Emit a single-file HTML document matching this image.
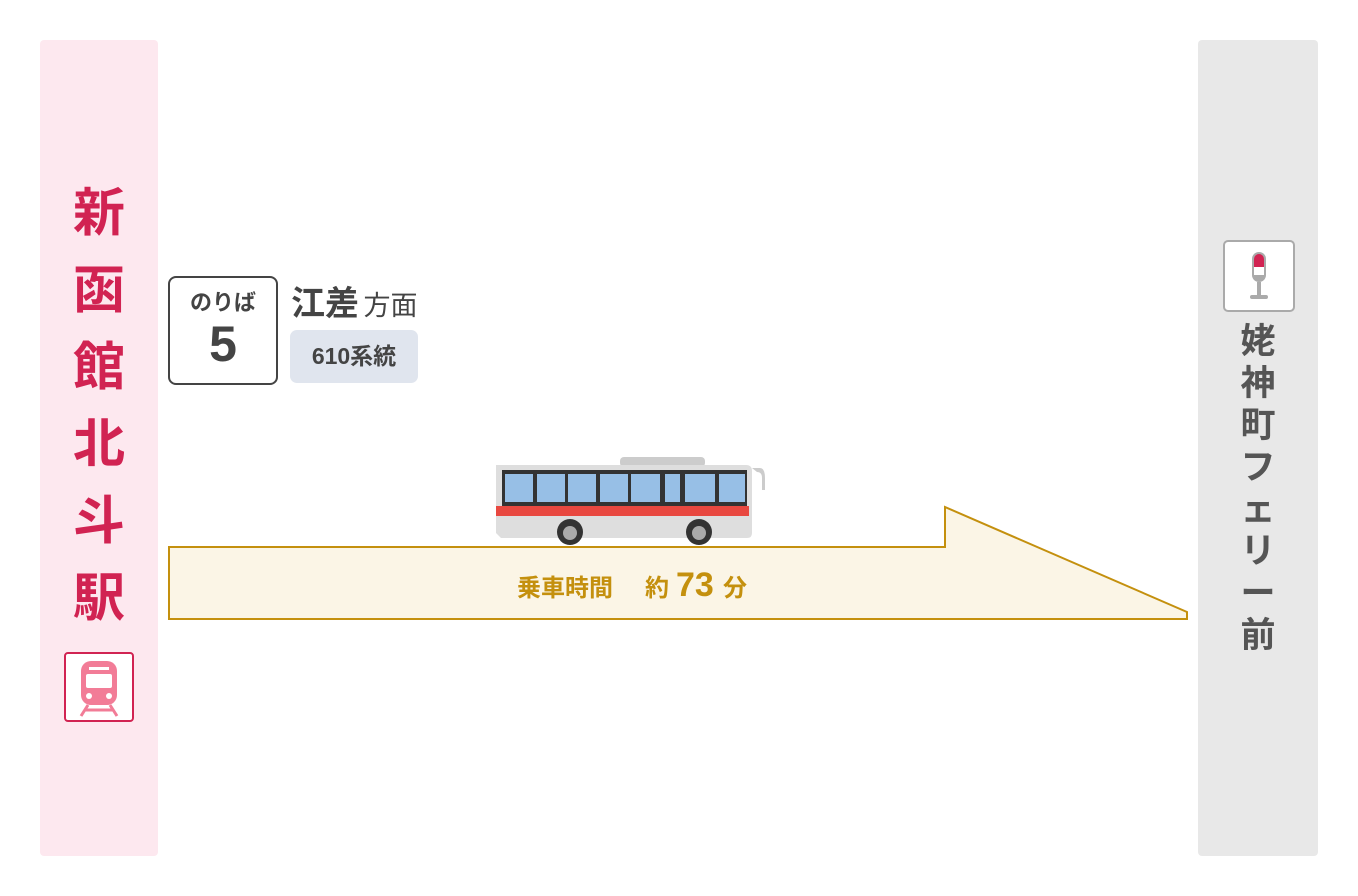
<!DOCTYPE html>
<html><head><meta charset="utf-8"><style>
body{margin:0;width:1358px;height:896px;background:#fff;position:relative;overflow:hidden;font-family:"Liberation Sans","Noto Sans CJK JP",sans-serif}
.a{position:absolute}
.vl{color:#d12352;font-weight:bold;font-size:52px;text-align:center;line-height:77px;width:118px;left:40px;top:176px}
.vr{color:#555;font-weight:bold;font-size:35px;text-align:center;line-height:42px;width:120px;left:1198px;top:321px}
</style></head><body>
<div class="a" style="left:40px;top:40px;width:118px;height:816px;background:#fde8ef;border-radius:4px"></div>
<div class="a" style="left:1198px;top:40px;width:120px;height:816px;background:#e8e8e8;border-radius:4px"></div>
<div class="a vl">新<br>函<br>館<br>北<br>斗<br>駅</div>
<div class="a" style="left:64px;top:652px;width:66px;height:66px;border:2px solid #d12352;border-radius:4px;background:#fff">
<svg width="66" height="66" viewBox="0 0 66 66"><rect x="15" y="7" width="36" height="44" rx="10" fill="#f27c97"/><rect x="23" y="13" width="20" height="3" fill="#fff"/><rect x="20" y="20" width="26" height="14" rx="2" fill="#fff"/><circle cx="23" cy="42" r="3" fill="#fff"/><circle cx="43" cy="42" r="3" fill="#fff"/><path d="M22 51 L15 62 M44 51 L51 62 M19 56 H47" stroke="#f27c97" stroke-width="3"/></svg></div>
<div class="a" style="left:1223px;top:240px;width:68px;height:68px;border:2px solid #aaa;border-radius:5px;background:#fff">
<svg width="68" height="68" viewBox="0 0 68 68"><rect x="27" y="10" width="14" height="30" rx="7" fill="#aaa"/><path d="M29 17 a5 5 0 0 1 10 0 v8 h-10z" fill="#d12352"/><rect x="29" y="25" width="10" height="8" fill="#fff"/><rect x="32" y="40" width="4" height="14" fill="#aaa"/><rect x="25" y="53" width="18" height="4" rx="2" fill="#aaa"/></svg></div>
<div class="a vr">姥<br>神<br>町<br>フ<br>ェ<br>リ<br>ー<br>前</div>
<div class="a" style="left:168px;top:276px;width:106px;height:105px;border:2.5px solid #444;border-radius:8px;text-align:center;color:#444;font-weight:bold">
<div style="font-size:22px;margin-top:12px;line-height:26px">のりば</div><div style="font-size:50px;line-height:56px">5</div></div>
<div class="a" style="left:291px;top:276px;color:#444;white-space:nowrap"><span style="font-size:34px;font-weight:bold">江差</span> <span style="font-size:27px">方面</span></div>
<div class="a" style="left:290px;top:330px;width:128px;height:53px;background:#e0e5ee;border-radius:7px;color:#444;font-weight:bold;font-size:23px;line-height:53px;text-align:center">610系統</div>
<svg class="a" style="left:0;top:0" width="1358" height="896">
<polygon points="169,547 945,547 945,507 1187,612 1187,619 169,619" fill="#fbf5e6" stroke="#c4900e" stroke-width="2"/>
<text x="517" y="596" font-size="24" font-weight="bold" fill="#c4900e" font-family="Liberation Sans,Noto Sans CJK JP,sans-serif">乗車時間<tspan x="645">約</tspan><tspan x="676" font-size="34">73</tspan><tspan x="723">分</tspan></text>
<rect x="620" y="457" width="85" height="10" rx="4" fill="#ccc"/>
<path d="M496 465 h250 q6 0 6 6 v62 q0 5 -5 5 h-246 l-5 -5z" fill="#dedede"/>
<path d="M752 468 h8 q5 0 5 10 v12 h-3 v-12 q0 -6 -5 -6z" fill="#ccc"/>
<rect x="502" y="470" width="245" height="36" fill="#333"/>
<g fill="#97bfe6"><rect x="505" y="474" width="28" height="28"/><rect x="537" y="474" width="28" height="28"/><rect x="568" y="474" width="28" height="28"/><rect x="600" y="474" width="28" height="28"/><rect x="631" y="474" width="29" height="28"/><rect x="665" y="474" width="15" height="28"/><rect x="685" y="474" width="30" height="28"/><rect x="719" y="474" width="26" height="28"/></g>
<rect x="496" y="506" width="253" height="10" fill="#e84840"/>
<circle cx="570" cy="532" r="13" fill="#333"/><circle cx="570" cy="533" r="7" fill="#aaa"/>
<circle cx="699" cy="532" r="13" fill="#333"/><circle cx="699" cy="533" r="7" fill="#aaa"/>
</svg>
</body></html>
